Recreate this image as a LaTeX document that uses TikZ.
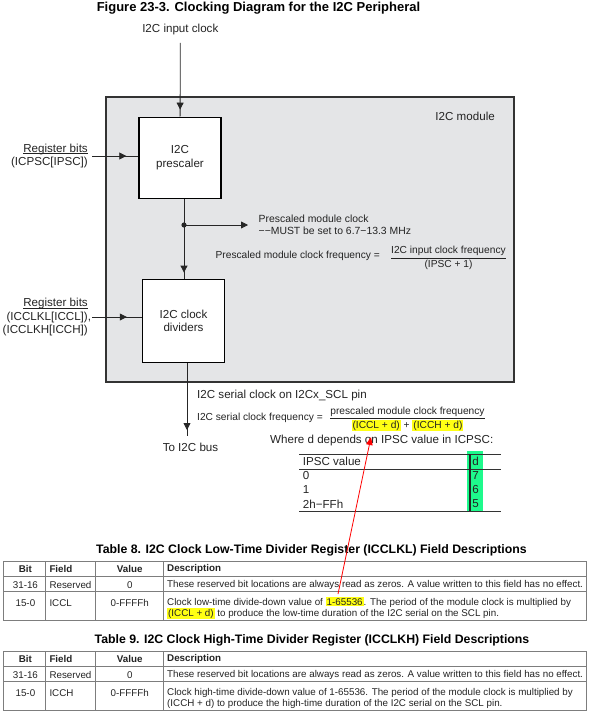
\documentclass[tikz,border=0pt]{standalone}
\usepackage{amsmath}
\usepackage{fontspec}
\setmainfont{Liberation Sans}
\usetikzlibrary{positioning,arrows.meta,decorations.markings}

\definecolor{modgray}{RGB}{228,229,231}
\definecolor{hlyellow}{RGB}{255,255,20}
\definecolor{hlgreen}{RGB}{30,250,140}
\definecolor{rulegray}{RGB}{125,125,125}
\definecolor{txtgray}{RGB}{35,35,35}
\newcommand{\hlt}[1]{{\setlength{\fboxsep}{1pt}\colorbox{hlyellow}{#1}}}
\newcommand{\undl}[1]{\setbox0\hbox{#1}\rlap{\raisebox{-1.8pt}{\rule{\wd0}{0.75pt}}}\box0}

\begin{document}
\begin{tikzpicture}[x=1pt, y=-1pt,
  lbl/.style={font=\fontsize{11.6}{13.5}\selectfont, text=txtgray, inner sep=0pt},
  eqn/.style={font=\fontsize{10.2}{11.7}\selectfont, text=txtgray, inner sep=0pt},
  cell/.style={font=\fontsize{9.8}{11.3}\selectfont, text=txtgray, inner sep=0pt},
  hcell/.style={cell, font=\bfseries\fontsize{9.8}{11.3}\selectfont},
  ttl/.style={font=\bfseries\fontsize{12.3}{14}\selectfont, inner sep=0pt},
  blockbox/.style={lbl, draw=black, line width=1.4pt, fill=white,
                   minimum width=82pt, minimum height=81pt, align=center},
  wire/.style={line width=0.8pt, draw=black!85},
  tipat/.style={decoration={markings,
      mark=at position -#1 with {\arrow{Triangle[length=7pt,width=7pt]}}},
      postaction={decorate}},
  redline/.style={draw=red, line width=0.8pt, -{Triangle[length=8pt,width=6.5pt]}},
  tabrule/.style={draw=rulegray, line width=0.6pt},
  >=Stealth
]
\useasboundingbox (0,0) rectangle (595,723);

% Title
\node[ttl, font=\bfseries\fontsize{13}{15}\selectfont] (fig) at (258.5, 8.5)
  {Figure 23-3. Clocking Diagram for the I2C Peripheral};

% Module frame
\node[draw=black!80, line width=1.6pt, fill=modgray, inner sep=0pt,
      minimum width=408pt, minimum height=285pt] (module) at (309.8, 239.2) {};
\node[lbl, anchor=east] (modname) at (495, 116) {I2C module};

% Blocks
\node[lbl] (inclk) at (180.3, 29.3) {I2C input clock};
\node[blockbox] (presc) at (180, 157.8) {I2C\\prescaler};
\node[blockbox, minimum height=83pt] (divs) at (183.5, 320.8) {I2C clock\\dividers};

% Register inputs
\node[lbl, anchor=east, align=right] (regpsc) at (88, 156)
  {\undl{Register bits}\\(ICPSC[IPSC])};
\node[lbl, anchor=east, align=right] (regdiv) at (88, 317)
  {\undl{Register bits}\\(ICCLKL[ICCL])\rlap{,}\\(ICCLKH[ICCH])};

% Prescaled clock tap
\coordinate (tap) at (184, 225);
\coordinate (pmend) at (248, 225);
\node[eqn, anchor=west, align=left, font=\fontsize{10.4}{11.7}\selectfont] (pmclk) at (258.5, 225)
  {Prescaled module clock\\−−MUST be set to 6.7−13.3 MHz};
\node[eqn, anchor=east] (pmlhs) at (380, 256) {Prescaled module clock frequency =};
\node[eqn, anchor=west] (pmrhs) at (389.8, 257.7)
  {$\dfrac{\text{I2C input clock frequency}}{\text{(IPSC + 1)}}$};

% Serial clock output
\coordinate (sclend) at (187, 435.7);
\node[lbl] (bus) at (190.5, 447.3) {To I2C bus};
\node[lbl, anchor=west] (sclpin) at (197, 395) {I2C serial clock on I2Cx\_SCL pin};
\node[eqn, anchor=west] (sclhs) at (197, 418.3) {I2C serial clock frequency =};
\node[eqn, anchor=west] (sclrhs) at (329, 419)
  {$\dfrac{\text{prescaled module clock frequency}}{\text{\hlt{(ICCL + d)} + \hlt{(ICCH + d)}}}$};
\node[lbl, anchor=west] (where) at (270, 440) {Where d depends on IPSC value in ICPSC:};

% Arrows
\draw[wire, tipat=7pt, shorten <=8pt] (inclk) -- (presc);
\draw[wire, tipat=12pt, shorten <=4pt] (regpsc.east) -- (regpsc.east -| presc.west);
\draw[wire, tipat=6pt] (presc.south -| tap) -- (divs.north -| tap);
\fill[black!85] (tap) circle (2.6pt);
\draw[wire, -{Triangle[length=7pt,width=7pt]}] (tap) -- (pmend);
\draw[wire, tipat=15pt, shorten <=4pt] (regdiv.east) -- (regdiv.east -| divs.west);
\draw[wire, tipat=5.7pt] (divs.south -| sclend) -- (sclend);

% d table
\fill[hlgreen] (467.3, 451.3) rectangle (482.7, 512.3);
\draw[draw=black!80, line width=0.7pt] (299, 454.3) -- (500.7, 454.3)
  (299, 469) -- (500.7, 469) (299, 511.3) -- (500.7, 511.3);
\draw[draw=black!85, line width=1.1pt] (470, 454.3) -- (470, 511.3);
\node[lbl, anchor=west] (ipschd) at (302.7, 461) {IPSC value};
\node[lbl] (dhd) at (475.6, 461) {d};
\foreach \v/\d/\y [count=\i] in {0/7/475.7, 1/6/489.3, 2h−FFh/5/504} {
  \node[lbl, anchor=west] (ipsc\i) at (302.7, \y) {\v};
  \node[lbl] (dval\i) at (475.6, \y) {\d};
}

% Register tables
\node[ttl] (tab8) at (311.5, 550)
  {Table 8. I2C Clock Low-Time Divider Register (ICCLKL) Field Descriptions};
\node[ttl] (tab9) at (312, 640)
  {Table 9. I2C Clock High-Time Divider Register (ICCLKH) Field Descriptions};
\foreach \t/\top in {8/561, 9/651} {
  \draw[tabrule] (3, \top) rectangle (586, \top+59);
  \draw[tabrule] (3, \top+15.7) -- (586, \top+15.7) (3, \top+30.7) -- (586, \top+30.7);
  \foreach \cx in {45.5, 95, 163.2}
    \draw[tabrule] (\cx, \top) -- (\cx, \top+59);
  \node[hcell] (bit\t) at (25.4, \top+8.3) {Bit};
  \node[hcell, anchor=west] (field\t) at (49.3, \top+8.3) {Field};
  \node[hcell] (value\t) at (129.8, \top+8.3) {Value};
  \node[hcell, anchor=west] (desc\t) at (167, \top+8.3) {Description};
  \node[cell] (rbit\t) at (25.4, \top+24) {31-16};
  \node[cell, anchor=west] (rfield\t) at (49.3, \top+24) {Reserved};
  \node[cell] (rvalue\t) at (129.8, \top+24) {0};
  \node[cell, anchor=west] (rdesc\t) at (167, \top+24)
    {These reserved bit locations are always read as zeros. A value written to this field has no effect.};
  \node[cell] (cbit\t) at (25.4, \top+41.7) {15-0};
  \node[cell] (cvalue\t) at (129.8, \top+41.7) {0-FFFFh};
}
\node[cell, anchor=west] (cfield8) at (49.3, 602.7) {ICCL};
\node[cell, anchor=west, align=left] (cdesc8) at (167, 608.3)
  {Clock low-time divide-down value of \hlt{1-65536}. The period of the module clock is multiplied by\\
   \hlt{(ICCL + d)} to produce the low-time duration of the I2C serial on the SCL pin.};
\node[cell, anchor=west] (cfield9) at (49.3, 692.7) {ICCH};
\node[cell, anchor=west, align=left] (cdesc9) at (167, 698.3)
  {Clock high-time divide-down value of 1-65536. The period of the module clock is multiplied by\\
   (ICCH + d) to produce the high-time duration of the I2C serial on the SCL pin.};

% Red pointer
\coordinate (numref) at (338, 594);
\coordinate (denref) at (371, 437);
\draw[redline] (numref) -- (denref);

\end{tikzpicture}
\end{document}
